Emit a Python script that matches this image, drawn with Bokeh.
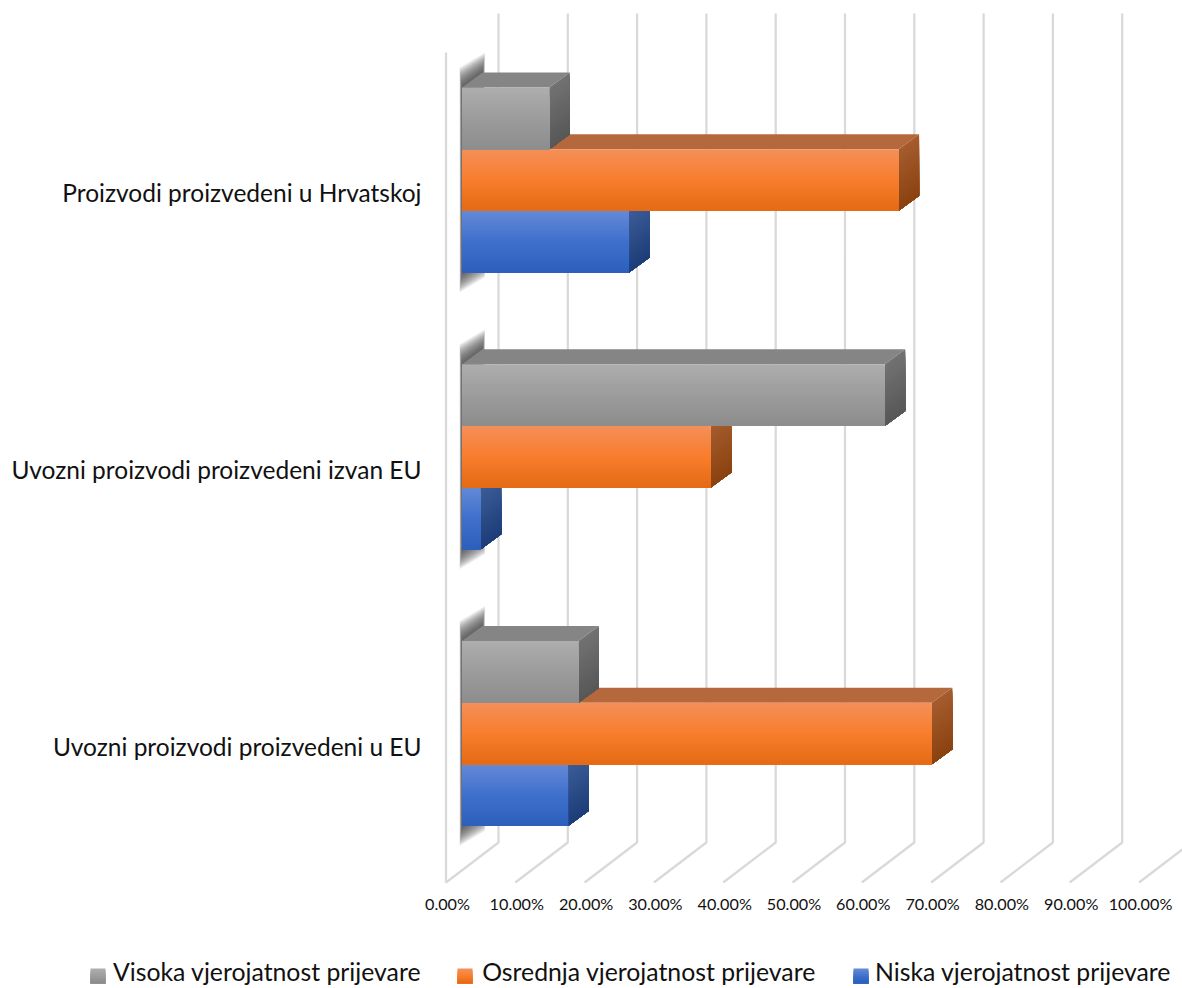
from bokeh.plotting import figure
from bokeh.embed import file_html
from bokeh.resources import INLINE
from bokeh.core.properties import value
from bokeh.models import Range1d

categories = ["Proizvodi proizvedeni u Hrvatskoj",
              "Uvozni proizvodi proizvedeni izvan EU",
              "Uvozni proizvodi proizvedeni u EU"]
visoka = [12.6, 61.0, 16.8]
osrednja = [63.0, 35.9, 67.8]
niska = [24.1, 2.7, 15.3]
series_names = ["Visoka vjerojatnost prijevare", "Osrednja vjerojatnost prijevare", "Niska vjerojatnost prijevare"]
x_ticks = [0, 10, 20, 30, 40, 50, 60, 70, 80, 90, 100]
x_tick_labels = ["0.00%", "10.00%", "20.00%", "30.00%", "40.00%", "50.00%", "60.00%", "70.00%", "80.00%", "90.00%", "100.00%"]

FONT = value("Lato")
W, H = 1182, 988
SX = 6.93     # px per percentage point
SY = 276.75   # px per category
X0 = 461.5    # px of value 0 on the bar plane
Y0 = 179.5    # px of first category centre

p = figure(width=W, height=H, output_backend="svg", toolbar_location=None,
           x_axis_type=None, y_axis_type=None,
           x_range=Range1d((0 - X0) / SX, (W - X0) / SX),
           y_range=Range1d((H - Y0) / SY, (0 - Y0) / SY),
           min_border=0, outline_line_color=None,
           background_fill_color="white", border_fill_color="white")
p.grid.visible = False

DX = 20.5 / SX
DY = 15.0 / SY
TH = 61.67 / SY


def ux(px):
    return (px - X0) / SX


def uy(px):
    return (px - Y0) / SY


BACK = 36.5 / SX
FRONT = -16.0 / SX
grid_xs, grid_ys = [], []
for t in x_ticks:
    grid_xs.append([t + BACK, t + BACK, t + FRONT])
    grid_ys.append([uy(13), uy(842), uy(882)])
grid_xs.append([FRONT, FRONT])
grid_ys.append([uy(52), uy(882)])
p.multi_line(grid_xs, grid_ys, line_color="#D9D9D9", line_width=2.25)


def hex2(c):
    return tuple(int(c[i:i + 2], 16) for i in (1, 3, 5))


def lerp(a, b, t):
    a, b = hex2(a), hex2(b)
    return "#%02x%02x%02x" % tuple(round(a[i] + (b[i] - a[i]) * t) for i in range(3))


sh_x, sh_y = [], []
for c in range(len(categories)):
    top = c - 1.5 * TH
    bot = c + 1.5 * TH
    for e in range(20, 0, -1):
        ex = e * 0.12 / SX
        ey = e / SY
        sh_x.append([-ex, DX + ex, DX + ex, -ex])
        sh_y.append([top - ey, top - DY - ey, bot - DY + ey, bot + ey])
p.patches(sh_x, sh_y, fill_color="#404040", fill_alpha=0.075, line_color=None)


def grad3(stops, t):
    if t < 0.5:
        return lerp(stops[0], stops[1], t * 2)
    return lerp(stops[1], stops[2], (t - 0.5) * 2)


NS = 30
BLUE = ("#6388D6", "#3F70CC", "#2D60BC")
ORANGE = ("#F48F58", "#F97D2D", "#E56B15")
GREY = ("#ADADAD", "#9C9C9C", "#8D8D8D")
styles = [
    (niska, 1, BLUE, "#3A5A96", ("#3C5C98", "#1D3E78")),
    (osrednja, 0, ORANGE, "#B5683C", ("#A65C2E", "#8A4310")),
    (visoka, -1, GREY, "#858585", ("#727272", "#585858")),
]
for vals, off, front, topc, side in styles:
    xs, ys, cols = [], [], []
    for c, v in enumerate(vals):
        yc = c + off * TH
        t0, b0 = yc - TH / 2, yc + TH / 2
        xs.append([0, DX, v + DX, v])
        ys.append([t0, t0 - DY, t0 - DY, t0])
        cols.append(topc)
        # gradient bands: each one runs to the face's bottom, so later bands paint over
        for i in range(NS):
            a = t0 + (b0 - t0) * i / NS
            xs.append([v, v + DX, v + DX, v])
            ys.append([a, a - DY, b0 - DY, b0])
            cols.append(lerp(side[0], side[1], i / (NS - 1)))
        for i in range(NS):
            a = t0 + (b0 - t0) * i / NS
            xs.append([0, v, v, 0])
            ys.append([a, a, b0, b0])
            cols.append(grad3(front, i / (NS - 1)))
    p.patches(xs, ys, fill_color=cols, line_color=None)

# x tick labels
p.text([t + ux(447) for t in x_ticks], [uy(903)] * len(x_ticks), text=x_tick_labels,
       text_font=FONT, text_font_size="16.2px", text_color="#111111",
       text_align="center", text_baseline="middle")

# category labels
p.text([ux(421)] * len(categories), [c + 12.5 / SY for c in range(len(categories))], text=categories,
       text_font=FONT, text_font_size="24.5px", text_color="#111111",
       text_align="right", text_baseline="middle")

# legend
leg_swatch_px = [90, 457, 853]
leg_text_px = [266.5, 648.5, 1022.5]
leg_stops = [GREY, ORANGE, BLUE]
xs, ys, cols = [], [], []
for sx, stops in zip(leg_swatch_px, leg_stops):
    for i in range(8):
        a = uy(968 + 15 * i / 8)
        xs.append([ux(sx), ux(sx + 15), ux(sx + 15), ux(sx)])
        ys.append([a, a, uy(983), uy(983)])
        cols.append(grad3(stops, i / 7))
p.patches(xs, ys, fill_color=cols, line_color=None)
p.text([ux(v) for v in leg_text_px], [uy(971)] * 3, text=series_names,
       text_font=FONT, text_font_size="24.8px", text_color="#111111",
       text_align="center", text_baseline="middle")

open("out.html", "w").write(file_html(p, INLINE))
